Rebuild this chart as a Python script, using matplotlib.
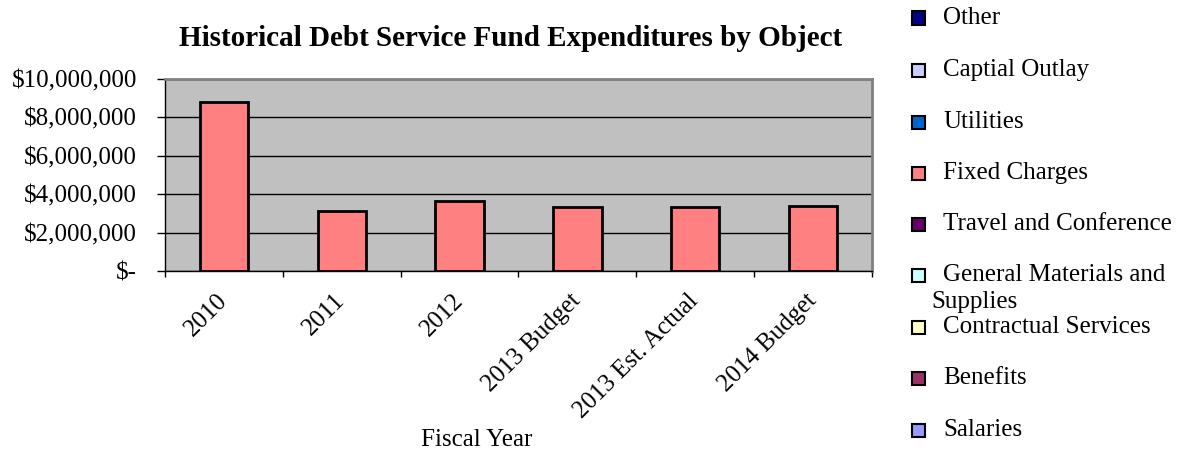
import matplotlib.pyplot as plt
from matplotlib.patches import Rectangle
from matplotlib.ticker import FuncFormatter
import numpy as np

plt.rcParams['font.family'] = ['Liberation Serif', 'DejaVu Serif']

years = ["2010", "2011", "2012", "2013 Budget", "2013 Est. Actual", "2014 Budget"]

# stacked series, bottom to top
series = ["Salaries", "Benefits", "Contractual Services",
          "General Materials and\nSupplies", "Travel and Conference",
          "Fixed Charges", "Utilities", "Captial Outlay", "Other"]
colors = ["#9999FF", "#993366", "#FFFFCC", "#CCFFFF", "#660066",
          "#FF8080", "#0066CC", "#CCCCFF", "#000080"]

salaries = [0, 0, 0, 0, 0, 0]
benefits = [0, 0, 0, 0, 0, 0]
contractual = [0, 0, 0, 0, 0, 0]
materials = [0, 0, 0, 0, 0, 0]
travel = [0, 0, 0, 0, 0, 0]
fixed_charges = [8780000, 3110000, 3630000, 3320000, 3330000, 3380000]
utilities = [0, 0, 0, 0, 0, 0]
capital = [0, 0, 0, 0, 0, 0]
other = [0, 0, 0, 0, 0, 0]
values = [salaries, benefits, contractual, materials, travel,
          fixed_charges, utilities, capital, other]

FS = 18

fig = plt.figure(figsize=(11.85, 4.55), dpi=100)
ax = fig.add_axes([0.1392, 0.4044, 0.5967, 0.4220])
ax.set_facecolor("#C0C0C0")

x = np.arange(len(years))
bottom = np.zeros(len(years))
for vals, c in zip(values, colors):
    vals = np.array(vals, dtype=float)
    if not vals.any():
        continue
    ax.bar(x, vals, width=0.41, bottom=bottom, color=c,
           edgecolor="black", linewidth=2, zorder=3)
    bottom += vals

ax.set_xlim(-0.5, len(years) - 0.5)
ax.set_ylim(0, 10000000)
ax.set_yticks(np.arange(0, 10000001, 2000000))
ax.yaxis.set_major_formatter(FuncFormatter(
    lambda v, p: "$-" if v == 0 else "${:,.0f}".format(v)))
ax.grid(axis="y", color="black", linewidth=1, zorder=1)

# category ticks at boundaries, labels at centres
ax.set_xticks(np.arange(-0.5, len(years)), minor=False)
ax.set_xticklabels([])
ax.set_xticks(x, minor=True)
ax.set_xticklabels(years, minor=True, rotation=45, ha="right", va="center",
                   rotation_mode="anchor", fontsize=FS)
ax.tick_params(axis="x", which="minor", length=0, pad=19)
ax.tick_params(axis="x", which="major", length=4.5, direction="out", width=1)
ax.tick_params(axis="y", length=6, direction="out", width=1, labelsize=FS, pad=14)

for s in ax.spines.values():
    s.set_color("#808080")
    s.set_linewidth(2)
ax.spines["left"].set_color("black")
ax.spines["left"].set_linewidth(1)
ax.spines["bottom"].set_color("black")
ax.spines["bottom"].set_linewidth(1)

fig.text(0.431, 0.915, "Historical Debt Service Fund Expenditures by Object",
         ha="center", va="center", fontsize=21, fontweight="bold")
fig.text(0.4025, 0.033, "Fiscal Year", ha="center", va="center", fontsize=FS)

# legend, drawn top to bottom in reverse stacking order
W, H = 1185.0, 455.0
leg_y = [18, 70, 122, 173, 224, 275, 327, 378, 430]
for yy, name, c in zip(leg_y, series[::-1], colors[::-1]):
    fig.patches.append(Rectangle(((912) / W, (H - yy - 6.5) / H), 13 / W, 13 / H,
                                 transform=fig.transFigure, facecolor=c,
                                 edgecolor="black", linewidth=1.5))
    lines = name.split("\n")
    fig.text(943 / W, (H - yy) / H, lines[0], ha="left", va="center", fontsize=FS)
    if len(lines) > 1:
        fig.text(931 / W, (H - yy - 27) / H, lines[1], ha="left", va="center",
                 fontsize=FS)

fig.savefig("out.png", dpi=100)
